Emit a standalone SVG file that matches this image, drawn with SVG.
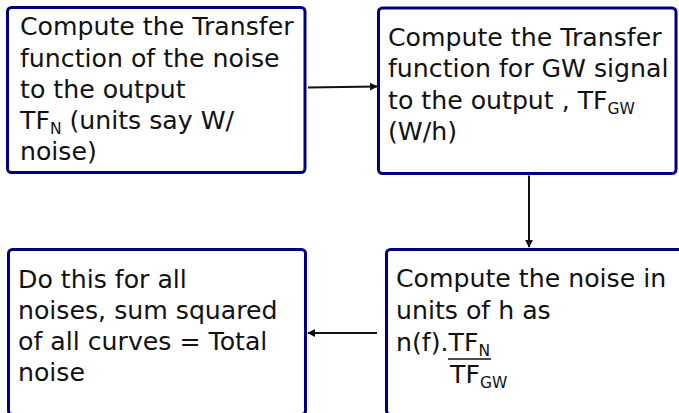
<svg xmlns="http://www.w3.org/2000/svg" width="679" height="413" viewBox="0 0 679 413">
  <defs>
    <style>
      .box { fill: #ffffff; stroke: #00007f; stroke-width: 3; }
      .txt { font-family: "DejaVu Sans", "Liberation Sans", sans-serif; font-size: 25.2px; fill: #111111; }
      .sub { font-size: 15.5px; }
      .edge { stroke: #111111; stroke-width: 2; fill: none; marker-end: url(#arrow); }
    </style>
    <marker id="arrow" viewBox="0 0 10 10" refX="9" refY="5" markerWidth="4" markerHeight="4" orient="auto" markerUnits="strokeWidth">
      <path d="M0,0 L10,5 L0,10 z" fill="#111111"/>
    </marker>
  </defs>
  <rect width="679" height="413" fill="#ffffff"/>

  <g id="connectors">
    <line class="edge" x1="308" y1="87.5" x2="377" y2="86.5"/>
    <line class="edge" x1="529" y1="175.5" x2="529" y2="247"/>
    <line class="edge" x1="377" y1="333" x2="308" y2="333"/>
  </g>

  <g id="node-tf-noise">
    <rect class="box" x="7.5" y="7.5" width="297.5" height="165" rx="4"/>
    <text class="txt" x="20" y="35">Compute the Transfer</text>
    <text class="txt" x="20" y="66.5">function of the noise</text>
    <text class="txt" x="20" y="97.7">to the output</text>
    <text class="txt" x="20" y="128.5">TF<tspan class="sub" dy="5">N</tspan><tspan dy="-5"> (units say W/</tspan></text>
    <text class="txt" x="20" y="159.5">noise)</text>
  </g>

  <g id="node-tf-gw">
    <rect class="box" x="378.5" y="8" width="297.5" height="165.5" rx="4"/>
    <text class="txt" x="388" y="46">Compute the Transfer</text>
    <text class="txt" x="388" y="77.3">function for GW signal</text>
    <text class="txt" x="388" y="108.5">to the output , TF<tspan class="sub" dy="5">GW</tspan></text>
    <text class="txt" x="388" y="139.5">(W/h)</text>
  </g>

  <g id="node-noise-h">
    <rect class="box" x="386.5" y="249.5" width="297.5" height="165" rx="4"/>
    <text class="txt" x="396" y="287">Compute the noise in</text>
    <text class="txt" x="396" y="319">units of h as</text>
    <text class="txt" x="396" y="351">n(f).TF<tspan class="sub" dy="5">N</tspan></text>
    <line x1="448" y1="359" x2="491" y2="359" stroke="#111111" stroke-width="1.5"/>
    <text class="txt" x="450" y="383">TF<tspan class="sub" dy="5">GW</tspan></text>
  </g>

  <g id="node-total">
    <rect class="box" x="8.5" y="249.5" width="297" height="165" rx="4"/>
    <text class="txt" x="18" y="288">Do this for all</text>
    <text class="txt" x="18" y="319">noises, sum squared</text>
    <text class="txt" x="18" y="350">of all curves = Total</text>
    <text class="txt" x="18" y="381">noise</text>
  </g>
</svg>
